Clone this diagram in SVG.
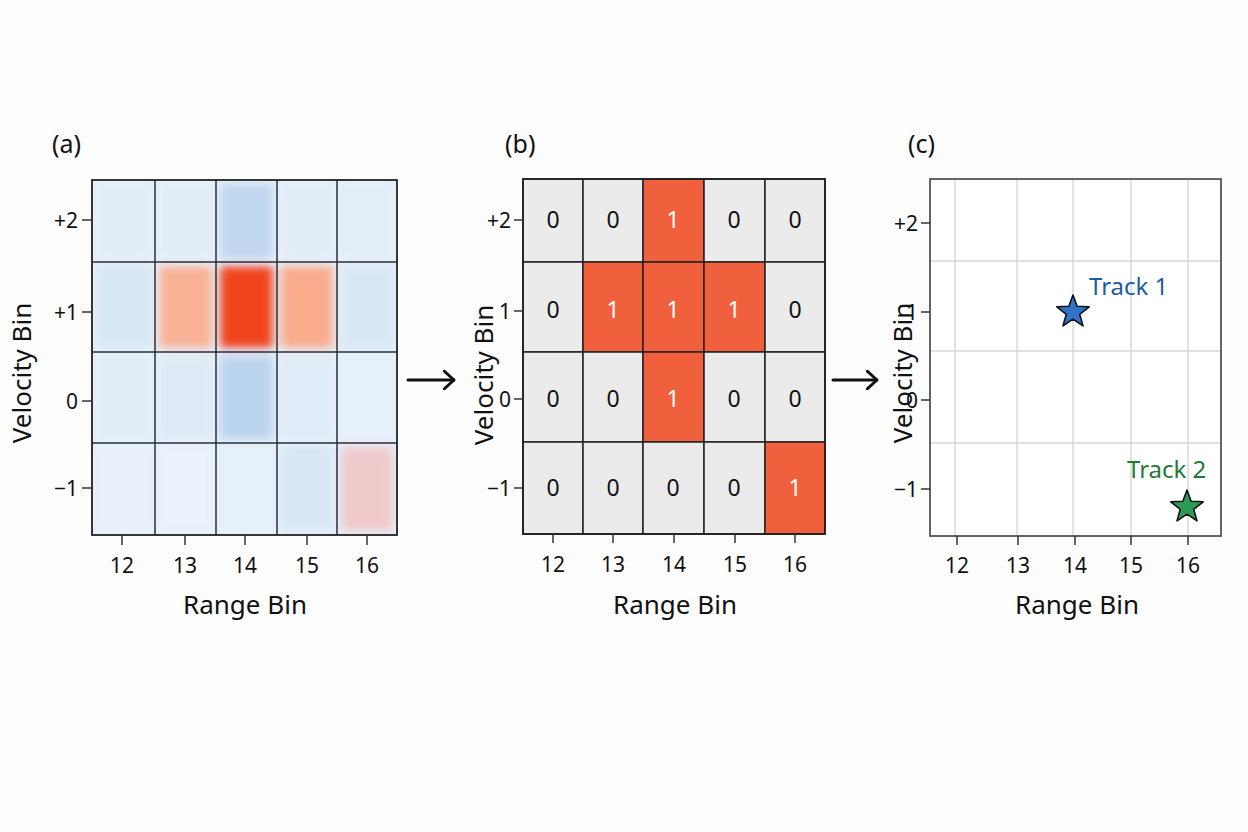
<svg xmlns="http://www.w3.org/2000/svg" width="1248" height="832" viewBox="0 0 1248 832">
<defs>
<filter id="soft" x="-20%" y="-20%" width="140%" height="140%"><feGaussianBlur stdDeviation="5"/></filter>
<clipPath id="clipA"><rect x="92" y="180" width="305" height="355"/></clipPath>
<marker id="arr" viewBox="0 0 12 20" refX="11" refY="10" markerWidth="12" markerHeight="20" markerUnits="userSpaceOnUse" orient="auto"><path d="M1,1 L11,10 L1,19" fill="none" stroke="#111" stroke-width="3" stroke-linecap="round" stroke-linejoin="round"/></marker>
</defs>
<style>
text{font-family:"Noto Sans","DejaVu Sans",sans-serif;fill:#111}
.tick{font-size:21px}
.ax{font-size:26px}
.pl{font-size:25px}
.frame{fill:none;stroke:#222;stroke-width:1.8}
.gl{stroke:#2a2f38;stroke-width:1.5}
.tk{stroke:#333;stroke-width:1.5}
.cg{fill:#ebebeb;stroke:#222;stroke-width:1.5}
.cr{fill:#f0603c;stroke:#222;stroke-width:1.5}
.n0{font-size:23px;fill:#111;text-anchor:middle}
.n1{font-size:23px;fill:#fff;text-anchor:middle}
.lg{stroke:#d6d6d6;stroke-width:1.4}
</style>
<rect width="1248" height="832" fill="#fdfdfd"/>

<g id="panel-a">
<text class="pl" x="52" y="153">(a)</text>
<rect x="92" y="180" width="305" height="355" fill="#e6f0fa"/>
<g clip-path="url(#clipA)" filter="url(#soft)">
<rect x="96" y="184" width="55" height="74" fill="#e2edf8"/>
<rect x="159" y="184" width="53" height="74" fill="#e2edf8"/>
<rect x="220" y="184" width="53" height="74" fill="#c0d7ee"/>
<rect x="281" y="184" width="52" height="74" fill="#e2edf8"/>
<rect x="341" y="184" width="52" height="74" fill="#e4eef9"/>
<rect x="96" y="266" width="55" height="82" fill="#d8e7f5"/>
<rect x="159" y="266" width="53" height="82" fill="#f9b296"/>
<rect x="220" y="266" width="53" height="82" fill="#f0441f"/>
<rect x="281" y="266" width="52" height="82" fill="#f9ab8c"/>
<rect x="341" y="266" width="52" height="82" fill="#d9e7f5"/>
<rect x="96" y="356" width="55" height="83" fill="#e2edf8"/>
<rect x="159" y="356" width="53" height="83" fill="#deebf7"/>
<rect x="220" y="356" width="53" height="83" fill="#bad3ec"/>
<rect x="281" y="356" width="52" height="83" fill="#e0ecf8"/>
<rect x="341" y="356" width="52" height="83" fill="#e6f0fa"/>
<rect x="96" y="447" width="55" height="84" fill="#e8f1fa"/>
<rect x="159" y="447" width="53" height="84" fill="#eaf2fb"/>
<rect x="220" y="447" width="53" height="84" fill="#e6f0fa"/>
<rect x="281" y="447" width="52" height="84" fill="#d8e7f5"/>
<rect x="341" y="447" width="52" height="84" fill="#efc9ca"/>
</g>
<line class="gl" x1="155" y1="180" x2="155" y2="535"/>
<line class="gl" x1="216" y1="180" x2="216" y2="535"/>
<line class="gl" x1="277" y1="180" x2="277" y2="535"/>
<line class="gl" x1="337" y1="180" x2="337" y2="535"/>
<line class="gl" x1="92" y1="262" x2="397" y2="262"/>
<line class="gl" x1="92" y1="352" x2="397" y2="352"/>
<line class="gl" x1="92" y1="443" x2="397" y2="443"/>
<rect class="frame" x="92" y="180" width="305" height="355"/>
<g class="tk">
<line x1="82" y1="220" x2="92" y2="220"/><line x1="82" y1="312" x2="92" y2="312"/><line x1="82" y1="401" x2="92" y2="401"/><line x1="82" y1="488" x2="92" y2="488"/>
<line x1="122" y1="535" x2="122" y2="545"/><line x1="185" y1="535" x2="185" y2="545"/><line x1="245" y1="535" x2="245" y2="545"/><line x1="307" y1="535" x2="307" y2="545"/><line x1="367" y1="535" x2="367" y2="545"/>
</g>
<g class="tick" text-anchor="end">
<text x="78" y="228">+2</text><text x="78" y="320">+1</text><text x="78" y="409">0</text><text x="78" y="496">−1</text>
</g>
<g class="tick" text-anchor="middle">
<text x="122" y="573">12</text><text x="185" y="573">13</text><text x="245" y="573">14</text><text x="307" y="573">15</text><text x="367" y="573">16</text>
</g>
<text class="ax" x="245" y="614" text-anchor="middle">Range Bin</text>
<text class="ax" transform="translate(31,373) rotate(-90)" text-anchor="middle">Velocity Bin</text>
</g>

<g id="panel-b">
<text class="pl" x="505" y="153">(b)</text>
<rect class="cg" x="523" y="179" width="60" height="83"/>
<rect class="cg" x="583" y="179" width="60" height="83"/>
<rect class="cr" x="643" y="179" width="61" height="83"/>
<rect class="cg" x="704" y="179" width="61" height="83"/>
<rect class="cg" x="765" y="179" width="60" height="83"/>
<rect class="cg" x="523" y="262" width="60" height="90"/>
<rect class="cr" x="583" y="262" width="60" height="90"/>
<rect class="cr" x="643" y="262" width="61" height="90"/>
<rect class="cr" x="704" y="262" width="61" height="90"/>
<rect class="cg" x="765" y="262" width="60" height="90"/>
<rect class="cg" x="523" y="352" width="60" height="90"/>
<rect class="cg" x="583" y="352" width="60" height="90"/>
<rect class="cr" x="643" y="352" width="61" height="90"/>
<rect class="cg" x="704" y="352" width="61" height="90"/>
<rect class="cg" x="765" y="352" width="60" height="90"/>
<rect class="cg" x="523" y="442" width="60" height="92"/>
<rect class="cg" x="583" y="442" width="60" height="92"/>
<rect class="cg" x="643" y="442" width="61" height="92"/>
<rect class="cg" x="704" y="442" width="61" height="92"/>
<rect class="cr" x="765" y="442" width="60" height="92"/>
<rect class="frame" x="523" y="179" width="302" height="355"/>
<text class="n0" x="553" y="228">0</text><text class="n0" x="613" y="228">0</text><text class="n1" x="673" y="228">1</text><text class="n0" x="734" y="228">0</text><text class="n0" x="795" y="228">0</text>
<text class="n0" x="553" y="318">0</text><text class="n1" x="613" y="318">1</text><text class="n1" x="673" y="318">1</text><text class="n1" x="734" y="318">1</text><text class="n0" x="795" y="318">0</text>
<text class="n0" x="553" y="407">0</text><text class="n0" x="613" y="407">0</text><text class="n1" x="673" y="407">1</text><text class="n0" x="734" y="407">0</text><text class="n0" x="795" y="407">0</text>
<text class="n0" x="553" y="496">0</text><text class="n0" x="613" y="496">0</text><text class="n0" x="673" y="496">0</text><text class="n0" x="734" y="496">0</text><text class="n1" x="795" y="496">1</text>
<g class="tk">
<line x1="514" y1="220" x2="523" y2="220"/><line x1="514" y1="311" x2="523" y2="311"/><line x1="514" y1="399" x2="523" y2="399"/><line x1="514" y1="488" x2="523" y2="488"/>
<line x1="553" y1="534" x2="553" y2="543"/><line x1="613" y1="534" x2="613" y2="543"/><line x1="674" y1="534" x2="674" y2="543"/><line x1="735" y1="534" x2="735" y2="543"/><line x1="795" y1="534" x2="795" y2="543"/>
</g>
<g class="tick" text-anchor="end">
<text x="511" y="228">+2</text><text x="511" y="319">1</text><text x="511" y="407">0</text><text x="511" y="496">−1</text>
</g>
<g class="tick" text-anchor="middle">
<text x="553" y="572">12</text><text x="613" y="572">13</text><text x="674" y="572">14</text><text x="735" y="572">15</text><text x="795" y="572">16</text>
</g>
<text class="ax" x="675" y="614" text-anchor="middle">Range Bin</text>
<text class="ax" transform="translate(493,375) rotate(-90)" text-anchor="middle">Velocity Bin</text>
</g>

<g id="panel-c">
<text class="pl" x="908" y="153">(c)</text>
<rect x="930" y="179" width="291" height="357" fill="#fff"/>
<g class="lg">
<line x1="955" y1="179" x2="955" y2="536"/><line x1="1017" y1="179" x2="1017" y2="536"/><line x1="1073" y1="179" x2="1073" y2="536"/><line x1="1131" y1="179" x2="1131" y2="536"/><line x1="1188" y1="179" x2="1188" y2="536"/>
<line x1="930" y1="261" x2="1221" y2="261"/><line x1="930" y1="351" x2="1221" y2="351"/><line x1="930" y1="443" x2="1221" y2="443"/>
</g>
<rect x="930" y="179" width="291" height="357" fill="none" stroke="#555" stroke-width="1.8"/>
<g class="tk">
<line x1="921" y1="223" x2="930" y2="223"/><line x1="921" y1="312" x2="930" y2="312"/><line x1="921" y1="400" x2="930" y2="400"/><line x1="921" y1="489" x2="930" y2="489"/>
<line x1="957" y1="536" x2="957" y2="545"/><line x1="1018" y1="536" x2="1018" y2="545"/><line x1="1075" y1="536" x2="1075" y2="545"/><line x1="1131" y1="536" x2="1131" y2="545"/><line x1="1188" y1="536" x2="1188" y2="545"/>
</g>
<g class="tick" text-anchor="end">
<text x="918" y="231">+2</text><text x="918" y="320">1</text><text x="918" y="408">0</text><text x="918" y="497">−1</text>
</g>
<g class="tick" text-anchor="middle">
<text x="957" y="573">12</text><text x="1018" y="573">13</text><text x="1075" y="573">14</text><text x="1131" y="573">15</text><text x="1188" y="573">16</text>
</g>
<text class="ax" x="1077" y="614" text-anchor="middle">Range Bin</text>
<text class="ax" transform="translate(912,373) rotate(-90)" text-anchor="middle">Velocity Bin</text>
</g>

<g id="track-1">
<polygon points="1073,295 1077.1,306.3 1089.2,306.8 1079.7,314.3 1083.0,325.9 1073,319.2 1063.0,325.9 1066.3,314.3 1056.8,306.8 1068.9,306.3" fill="#2f74c8" stroke="#111" stroke-width="1.6" stroke-linejoin="round"/>
<text x="1089" y="295" font-size="24" style="fill:#1f5aa8">Track 1</text>
</g>
<g id="track-2">
<polygon points="1187,490 1191.1,501.3 1203.2,501.8 1193.7,509.3 1197.0,520.9 1187,514.2 1177.0,520.9 1180.3,509.3 1170.8,501.8 1182.9,501.3" fill="#2e9a5a" stroke="#111" stroke-width="1.6" stroke-linejoin="round"/>
<text x="1127" y="478" font-size="24" style="fill:#1f7a3c">Track 2</text>
</g>

<g id="connectors" stroke="#111" stroke-width="3" stroke-linecap="round" fill="none">
<line x1="408" y1="380" x2="454" y2="380" marker-end="url(#arr)"/>
<line x1="833" y1="380" x2="877" y2="380" marker-end="url(#arr)"/>
</g>
</svg>
